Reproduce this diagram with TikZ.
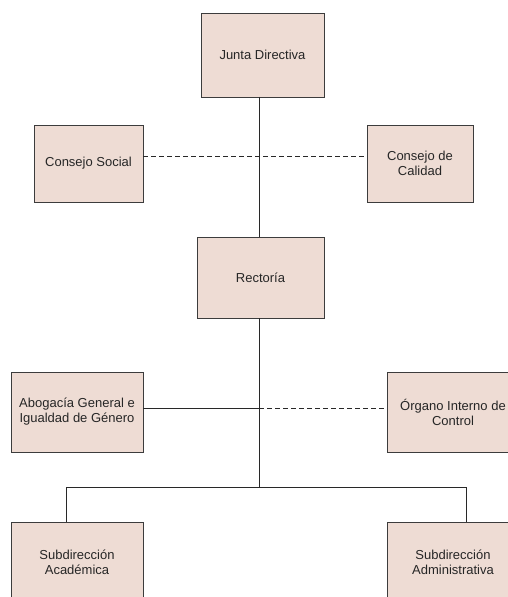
\documentclass[tikz,border=0pt]{standalone}
\usepackage{fontspec}
\setmainfont{Liberation Sans}
\definecolor{boxfill}{RGB}{238,220,212}
\definecolor{boxline}{RGB}{60,60,60}
\definecolor{conn}{RGB}{40,40,40}
\begin{document}
\begin{tikzpicture}[x=1bp,y=-1bp,
  orgbox/.style={draw=boxline,fill=boxfill,line width=0.9bp,inner sep=0pt,
    minimum width=#1,align=center,font=\fontsize{13bp}{15bp}\selectfont,text=black!85},
  orgbox/.default=132bp,
  link/.style={draw=conn,line width=0.9bp},
  dlink/.style={draw=conn,line width=0.9bp,dash pattern=on 5bp off 3bp}]
\useasboundingbox (0,0) rectangle (508,597);
\clip (0,0) rectangle (508,597);
\node[orgbox=123bp,minimum height=84bp] (J) at (262.5,55) {Junta Directiva};
\node[orgbox=109bp,minimum height=77bp] (CS) at (88.5,163.5) {Consejo Social};
\node[orgbox=106bp,minimum height=77bp] (CC) at (420,163.5) {Consejo de\\Calidad};
\node[orgbox=127bp,minimum height=81bp] (R) at (260.5,277.5) {Rectoría};
\node[orgbox,minimum height=80bp] (A) at (77,412) {Abogacía General e\\Igualdad de Género};
\node[orgbox,minimum height=80bp] (O) at (453,412) {Órgano Interno de\\Control};
\node[orgbox,minimum height=80bp] (SA) at (77,562) {Subdirección\\Académica};
\node[orgbox,minimum height=80bp] (SB) at (453,562) {Subdirección\\Administrativa};
\coordinate (top) at (259,97);
\coordinate (rt) at (259,237);
\coordinate (rb) at (259,318);
\coordinate (hub) at (259,487);
\coordinate (dl) at (143,156);
\coordinate (dr) at (367,156);
\coordinate (mid) at (259,408);
\coordinate (al) at (66,487);
\coordinate (ar) at (466,487);
\path[link] (top) -- (rt);
\path[link] (rb) -- (hub);
\path[dlink] (dl) -- (dr);
\path[link] (A.east |- mid) -- (mid);
\path[dlink] (mid) -- (O.west |- mid);
\path[link] (al) -- (ar);
\path[link] (al) -- (al |- SA.north);
\path[link] (ar) -- (ar |- SB.north);
\end{tikzpicture}
\end{document}
